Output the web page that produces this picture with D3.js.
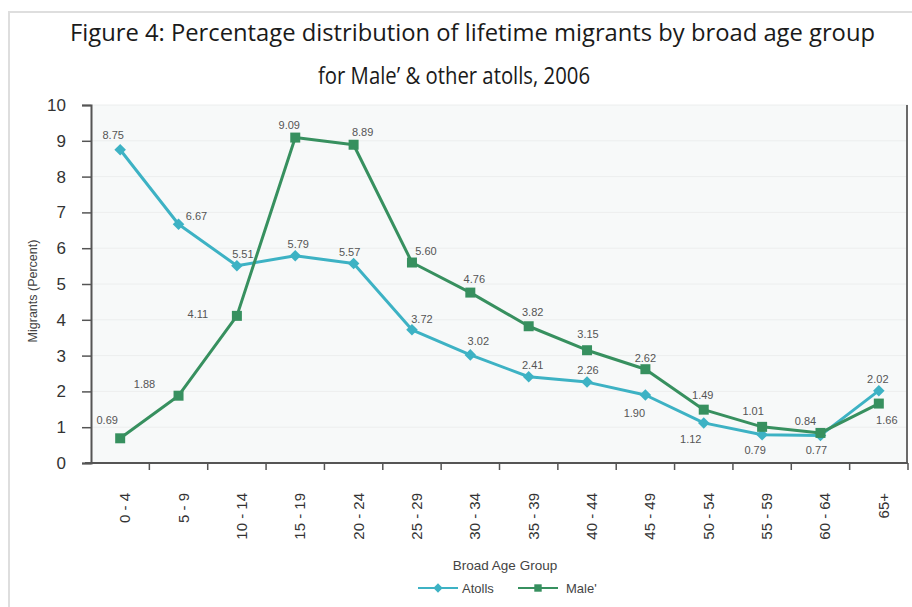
<!DOCTYPE html>
<html>
<head>
<meta charset="utf-8">
<script src="https://cdn.jsdelivr.net/npm/d3@7"></script>
<style>
	html, body { margin: 0; padding: 0; background: #fff; }
	svg { display: block; }
</style>
</head>
<body>
<div id="chart"></div>
<script>
	// data
	var ageGroups = ["0 - 4", "5 - 9", "10 - 14", "15 - 19", "20 - 24", "25 - 29", "30 - 34",
		"35 - 39", "40 - 44", "45 - 49", "50 - 54", "55 - 59", "60 - 64", "65+"];
	var atolls = [8.75, 6.67, 5.51, 5.79, 5.57, 3.72, 3.02, 2.41, 2.26, 1.90, 1.12, 0.79, 0.77, 2.02];
	var male = [0.69, 1.88, 4.11, 9.09, 8.89, 5.60, 4.76, 3.82, 3.15, 2.62, 1.49, 1.01, 0.84, 1.66];
	var yTicks = [0, 1, 2, 3, 4, 5, 6, 7, 8, 9, 10];

	// label offsets (dx, dy from the point) so the numbers sit like the original
	var atollsLabelOff = [[-7,-15],[18,-8],[6,-12],[3,-12],[-4,-11],[10,-11],[8,-14],[4,-12],[1,-12],[-11,18],[-13,16],[-7,15],[-4,15],[-1,-12]];
	var maleLabelOff = [[-13,-18],[-34,-12],[-39,-2],[-6,-12],[9,-13],[14,-11],[4,-13],[4,-14],[1,-16],[0,-11],[-1,-15],[-9,-16],[-15,-12],[8,17]];

	var W = 912, H = 607;
	var margin = {left: 91, right: 4, top: 105, bottom: 144};
	var plotW = W - margin.left - margin.right;
	var plotH = H - margin.top - margin.bottom;

	var cAtolls = "#3db2c4";
	var cMale = "#37905f";
	var sansFont = "'Liberation Sans', Arimo, Arial, Roboto, sans-serif";

	var svg = d3.select("#chart").append("svg")
		.attr("width", W)
		.attr("height", H);

	// outer frame (left + top)
	svg.append("path")
		.attr("d", `M9,${H} V12 H${W}`)
		.attr("fill", "none")
		.attr("stroke", "#dedede")
		.attr("stroke-width", 2);

	// title
	var title = svg.append("g")
		.style("font-family", "'Open Sans', 'Noto Sans', sans-serif")
		.style("font-size", "24px")
		.attr("fill", "#1a1a1a");
	title.append("text")
		.attr("x", 70).attr("y", 41)
		.attr("textLength", 805)
		.attr("lengthAdjust", "spacingAndGlyphs")
		.text("Figure 4: Percentage distribution of lifetime migrants by broad age group");
	title.append("text")
		.attr("x", 318).attr("y", 84)
		.attr("textLength", 272)
		.attr("lengthAdjust", "spacingAndGlyphs")
		.text("for Male\u2019 & other atolls, 2006");

	var xBand = d3.scaleBand().domain(ageGroups).range([0, plotW]);
	var x = d => xBand(d) + xBand.bandwidth() / 2;
	var y = d3.scaleLinear().domain([0, 10]).range([plotH, 0]);

	var g = svg.append("g").attr("transform", `translate(${margin.left},${margin.top})`);

	// plot background
	g.append("rect")
		.attr("width", plotW)
		.attr("height", plotH)
		.attr("fill", "#f7f9f9");

	// faint grid
	g.selectAll(".grid").data(yTicks.slice(1))
		.join("line")
		.attr("x1", 0).attr("x2", plotW)
		.attr("y1", d => y(d)).attr("y2", d => y(d))
		.attr("stroke", "#eceeee")
		.attr("stroke-width", 1);

	// right border of plot
	g.append("line")
		.attr("x1", plotW - 1).attr("x2", plotW - 1)
		.attr("y1", 0).attr("y2", plotH)
		.attr("stroke", "#6a6a6a")
		.attr("stroke-width", 2);

	// y axis
	var yAxis = g.append("g")
		.call(d3.axisLeft(y).tickValues(yTicks).tickSize(9).tickPadding(16).tickFormat(d3.format("d")));
	yAxis.select(".domain").attr("stroke", "#555").attr("stroke-width", 2);
	yAxis.selectAll(".tick line").attr("stroke", "#555").attr("stroke-width", 1.5);
	yAxis.selectAll("text")
		.style("font-family", sansFont)
		.style("font-size", "17px")
		.attr("fill", "#333");

	// x axis: ticks at category boundaries
	var xAxisG = g.append("g").attr("transform", `translate(0,${plotH})`);
	xAxisG.append("line")
		.attr("x1", -6).attr("x2", plotW)
		.attr("stroke", "#555").attr("stroke-width", 2);
	xAxisG.selectAll(".xtick").data(ageGroups.slice(1).concat(["end"]))
		.join("line")
		.attr("x1", (d, i) => xBand.step() * (i + 1))
		.attr("x2", (d, i) => xBand.step() * (i + 1))
		.attr("y1", 0).attr("y2", 7)
		.attr("stroke", "#555").attr("stroke-width", 1.5);
	xAxisG.selectAll(".xlabel").data(ageGroups)
		.join("text")
		.attr("transform", d => `translate(${x(d) + 10},30) rotate(-90)`)
		.attr("text-anchor", "end")
		.style("font-family", sansFont)
		.style("font-size", "15px")
		.attr("fill", "#333")
		.text(d => d);

	// axis titles
	svg.append("text")
		.attr("transform", `translate(37,291) rotate(-90)`)
		.attr("text-anchor", "middle")
		.style("font-family", sansFont)
		.style("font-size", "12.5px")
		.attr("fill", "#444")
		.text("Migrants (Percent)");
	svg.append("text")
		.attr("x", 505).attr("y", 570)
		.attr("text-anchor", "middle")
		.style("font-family", sansFont)
		.style("font-size", "13.5px")
		.attr("fill", "#444")
		.text("Broad Age Group");

	var series = [
		{name: "Atolls", values: atolls, color: cAtolls, shape: d3.symbolDiamond2, size: 85, off: atollsLabelOff},
		{name: "Male'", values: male, color: cMale, shape: d3.symbolSquare, size: 100, off: maleLabelOff},
	];

	var line = d3.line()
		.x((d, i) => x(ageGroups[i]))
		.y(d => y(d));

	series.forEach(s => {
		g.append("path")
			.attr("d", line(s.values))
			.attr("fill", "none")
			.attr("stroke", s.color)
			.attr("stroke-width", 3)
			.attr("stroke-linejoin", "round");

		g.selectAll(null).data(s.values)
			.join("path")
			.attr("transform", (d, i) => `translate(${x(ageGroups[i])},${y(d)})`)
			.attr("d", d3.symbol(s.shape, s.size))
			.attr("fill", s.color);

		g.selectAll(null).data(s.values)
			.join("text")
			.attr("x", (d, i) => x(ageGroups[i]) + s.off[i][0])
			.attr("y", (d, i) => y(d) + s.off[i][1])
			.attr("dy", "0.35em")
			.attr("text-anchor", "middle")
			.style("font-family", sansFont)
			.style("font-size", "11px")
			.attr("fill", "#555")
			.text(d => d.toFixed(2));
	});

	// legend
	var legend = svg.append("g").attr("transform", "translate(418,588)");
	series.forEach((s, i) => {
		var lg = legend.append("g").attr("transform", `translate(${i * 100},0)`);
		lg.append("line")
			.attr("x1", 0).attr("x2", 40)
			.attr("stroke", s.color).attr("stroke-width", 2);
		lg.append("path")
			.attr("transform", "translate(20,0)")
			.attr("d", d3.symbol(s.shape, 55))
			.attr("fill", s.color);
		lg.append("text")
			.attr("x", i === 0 ? 44 : 48)
			.attr("dy", "0.35em")
			.style("font-family", sansFont)
			.style("font-size", "13px")
			.attr("fill", "#444")
			.text(s.name);
	});
</script>
</body>
</html>
